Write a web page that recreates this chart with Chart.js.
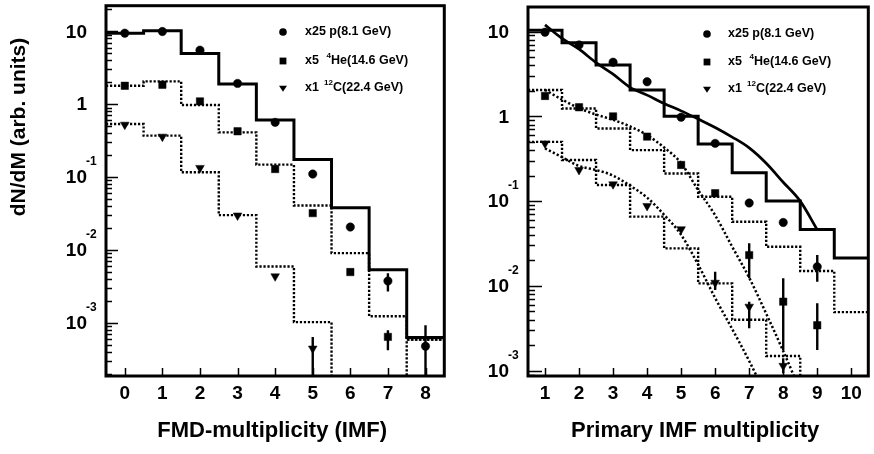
<!DOCTYPE html>
<html>
<head>
<meta charset="utf-8">
<script src="https://cdn.jsdelivr.net/npm/chart.js@4.4.1/dist/chart.umd.min.js"></script>
<style>
  html, body { margin: 0; padding: 0; background: #fff; }
  #wrap { position: relative; width: 874px; height: 454px; overflow: hidden; }
  canvas { position: absolute; top: 0; }
</style>
</head>
<body>
<div id="wrap">
  <canvas id="fmd" width="450" height="454" style="left:0"></canvas>
  <canvas id="primary" width="424" height="454" style="left:450px"></canvas>
</div>
<script>
// ---------- FMD-multiplicity panel ----------
const fmdCategories = [0, 1, 2, 3, 4, 5, 6, 7, 8];
// model histograms (one value per bin)
const fmdProtonHist = [9.44, 10.2, 4.97, 1.89, 0.607, 0.174, 0.0378, 0.00535, 6.27e-4];
const fmdHeliumHist = [1.79, 2.06, 0.975, 0.411, 0.148, 0.0407, 0.00905, 0.00123, 5.9e-4];
const fmdCarbonHist = [0.535, 0.37, 0.1164, 0.0300, 0.00591, 0.00102, 1e-6, 1e-6, 5.9e-4];
// measured points
const fmdProtonData = [9.44, 9.95, 5.52, 1.93, 0.563, 0.110, 0.0206, 0.00374, 4.77e-4];
const fmdHeliumData = [1.79, 1.85, 1.094, 0.425, 0.129, 0.032, 0.00497, 6.4e-4];
const fmdCarbonData = [0.524, 0.359, 0.1337, 0.0297, 0.00434, 4.43e-4];
// error bars: category -> [low, high]; low 0 runs down to the axis
const fmdProtonErr = { 7: [0.00269, 0.00479], 8: [0, 9.25e-4] };
const fmdHeliumErr = { 7: [4.2e-4, 7.9e-4] };
const fmdCarbonErr = { 5: [0, 6.4e-4] };

// ---------- Primary IMF multiplicity panel ----------
const primaryCategories = [1, 2, 3, 4, 5, 6, 7, 8, 9, 10];
const primaryProtonHist = [10.4, 7.4, 4.04, 2.05, 1.0, 0.471, 0.216, 0.1, 0.0462, 0.0214];
const primaryHeliumHist = [2.05, 1.24, 0.72, 0.40, 0.212, 0.1125, 0.057, 0.0289, 0.0150, 0.0049];
const primaryCarbonHist = [0.50, 0.306, 0.155, 0.0656, 0.0277, 0.0107, 0.00398, 0.00149, 1e-6, 1e-6];
const primaryProtonData = [9.82, 6.96, 4.35, 2.56, 0.977, 0.48, 0.095, 0.056, 0.0168];
const primaryHeliumData = [1.74, 1.28, 1.0, 0.577, 0.267, 0.124, 0.0231, 0.00651, 0.00343];
const primaryCarbonData = [0.48, 0.233, 0.158, 0.0877, 0.0466, 0.0109, 0.00569, 0.00114];
const primaryProtonErr = { 9: [0.0112, 0.0231] };
const primaryHeliumErr = { 7: [0.0123, 0.0318], 8: [0.00175, 0.0123], 9: [0.00175, 0.00624] };
const primaryCarbonErr = { 6: [0.00895, 0.0147], 7: [0.00316, 0.00651], 8: [0.00093, 0.0014] };
// smooth model curves
const fitX       = [1, 1.5, 2, 2.5, 3, 3.5, 4, 4.5, 5, 5.5, 6, 6.5, 7, 7.5, 8, 8.5, 9];
const protonFit  = [12.0, 8.3, 6.2, 4.3, 3.15, 2.2, 1.78, 1.42, 1.16, 0.93, 0.74, 0.57, 0.425, 0.28, 0.167, 0.1, 0.046];
const heliumFit  = [2.05, 1.58, 1.25, 1.05, 0.91, 0.76, 0.60, 0.43, 0.28, 0.135, 0.068, 0.029, 0.0125, 0.0047, 0.0017, 0.00058];
const carbonFit  = [0.42, 0.33, 0.26, 0.233, 0.20, 0.152, 0.11, 0.069, 0.040, 0.0178, 0.0072, 0.0031, 0.0013, 0.0005];

// ---------- axis text ----------
const yMajorTicks = [10, 1, 0.1, 0.01, 0.001];
const yTickBase   = ['10', '1', '10', '10', '10'];
const yTickExp    = ['', '', '-1', '-2', '-3'];
const fmdTitle = 'FMD-multiplicity (IMF)';
const primaryTitle = 'Primary IMF multiplicity';
const yTitle = 'dN/dM (arb. units)';
const legendScale = ['x25', 'x5', 'x1'];
const legendIsotope = ['', '4', '12'];
const legendBeam = ['p(8.1 GeV)', 'He(14.6 GeV)', 'C(22.4 GeV)'];
const legendStyles = ['circle', 'rect', 'triangle'];

const FONT = '"Liberation Sans", Arial, Helvetica, sans-serif';

function stepPoints(cats, vals) {
  const pts = cats.map((c, i) => ({ x: c - 0.5, y: vals[i] }));
  pts.push({ x: cats[cats.length - 1] + 0.5, y: vals[vals.length - 1] });
  return pts;
}
function pointData(cats, vals) {
  return vals.map((v, i) => ({ x: cats[i], y: v }));
}
function histSet(cats, vals, solid) {
  return {
    type: 'line', data: stepPoints(cats, vals), stepped: 'before',
    borderColor: '#000', borderWidth: solid ? 3 : 2.4,
    borderDash: solid ? [] : [2.2, 1.8], pointRadius: 0, fill: false, clip: 0
  };
}
function curveSet(xs, vals, solid) {
  return {
    type: 'line', data: vals.map((v, i) => ({ x: xs[i], y: v })),
    cubicInterpolationMode: 'monotone', borderColor: '#000',
    borderWidth: solid ? 2.7 : 2.5, borderDash: solid ? [] : [2.2, 2.2],
    pointRadius: 0, fill: false, clip: 0
  };
}
function markerSet(cats, vals, style) {
  return {
    type: 'line', data: pointData(cats, vals), showLine: false,
    pointStyle: style, rotation: style === 'triangle' ? 180 : 0,
    pointRadius: style === 'rect' ? 5.2 : (style === 'triangle' ? 5 : 4.2),
    pointBackgroundColor: '#000', pointBorderColor: '#000', pointBorderWidth: 0.5
  };
}

function drawMarker(ctx, style, x, y, r) {
  ctx.beginPath();
  if (style === 'circle') {
    ctx.arc(x, y, r, 0, Math.PI * 2);
  } else if (style === 'rect') {
    ctx.rect(x - r, y - r, 2 * r, 2 * r);
  } else {
    ctx.moveTo(x - r * 1.05, y - r * 0.6);
    ctx.lineTo(x + r * 1.05, y - r * 0.6);
    ctx.lineTo(x, y + r * 1.0);
    ctx.closePath();
  }
  ctx.fill();
}

// frame, ticks, tick labels, titles, legend and error bars
const panelAxes = {
  id: 'panelAxes',
  afterDatasetsDraw(chart, args, o) {
    const { ctx, chartArea: a, scales: { x, y } } = chart;
    ctx.save();
    ctx.beginPath();
    ctx.rect(a.left, a.top, a.width, a.height);
    ctx.clip();
    ctx.strokeStyle = '#000';
    ctx.lineWidth = 2.4;
    for (const err of o.errors) {
      for (const k of Object.keys(err)) {
        const px = x.getPixelForValue(Number(k));
        const lo = err[k][0] > 0 ? y.getPixelForValue(err[k][0]) : a.bottom;
        const hi = y.getPixelForValue(err[k][1]);
        ctx.beginPath();
        ctx.moveTo(px, lo);
        ctx.lineTo(px, hi);
        ctx.stroke();
      }
    }
    ctx.restore();
  },
  afterDraw(chart, args, o) {
    const { ctx, chartArea: a, scales: { x, y } } = chart;
    ctx.save();
    ctx.fillStyle = '#000';
    ctx.strokeStyle = '#000';

    // y ticks: majors and 2..9 minors, drawn inward
    ctx.lineWidth = 1.5;
    for (let e = -5; e <= 2; e++) {
      for (let m = 1; m <= 9; m++) {
        const v = m * Math.pow(10, e);
        if (v < y.min || v > y.max) continue;
        const py = Math.round(y.getPixelForValue(v)) + 0.5;
        const len = m === 1 ? o.majorLen : o.minorLen;
        ctx.beginPath();
        ctx.moveTo(a.left, py);
        ctx.lineTo(a.left + len, py);
        ctx.stroke();
      }
    }
    // x ticks at the categories
    for (const c of o.categories) {
      const px = Math.round(x.getPixelForValue(c)) + 0.5;
      ctx.beginPath();
      ctx.moveTo(px, a.bottom);
      ctx.lineTo(px, a.bottom - 8);
      ctx.stroke();
    }

    // frame
    ctx.lineWidth = 3;
    ctx.strokeRect(a.left, a.top, a.width, a.height);

    // y tick labels with superscript exponents
    yMajorTicks.forEach((v, i) => {
      const py = y.getPixelForValue(v);
      ctx.font = 'bold 19px ' + FONT;
      ctx.textAlign = 'right';
      ctx.textBaseline = 'middle';
      ctx.fillText(yTickBase[i], a.left - 19, py + 1);
      if (yTickExp[i]) {
        ctx.font = 'bold 12px ' + FONT;
        ctx.textAlign = 'left';
        ctx.fillText(yTickExp[i], a.left - 20, py - 15);
      }
    });
    // x tick labels
    ctx.font = 'bold 19px ' + FONT;
    ctx.textAlign = 'center';
    ctx.textBaseline = 'middle';
    for (const c of o.categories) {
      ctx.fillText(String(c), x.getPixelForValue(c), a.bottom + 18);
    }
    // x title
    ctx.font = 'bold 22px ' + FONT;
    ctx.fillText(o.title, (a.left + a.right) / 2 - 3, a.bottom + 55);
    // y title
    if (o.showYTitle) {
      ctx.save();
      ctx.translate(19, 127);
      ctx.rotate(-Math.PI / 2);
      ctx.font = 'bold 21px ' + FONT;
      ctx.fillText(yTitle, 0, 0);
      ctx.restore();
    }

    // legend
    legendScale.forEach((s, i) => {
      const ry = o.legendRows[i];
      const style = legendStyles[i];
      drawMarker(ctx, style, o.legendMarkerX, ry, style === 'circle' ? 3.8 : (style === 'rect' ? 3.4 : 3.8));
      ctx.font = 'bold 12.5px ' + FONT;
      ctx.textAlign = 'left';
      ctx.textBaseline = 'middle';
      const tx = o.legendTextX;
      ctx.fillText(s, tx, ry);
      if (legendIsotope[i]) {
        const bx = tx + (i === 1 ? 26 : 28);
        ctx.font = 'bold 8px ' + FONT;
        ctx.textAlign = 'right';
        ctx.fillText(legendIsotope[i], bx, ry - 5);
        ctx.font = 'bold 12.5px ' + FONT;
        ctx.textAlign = 'left';
        ctx.fillText(legendBeam[i], bx, ry);
      } else {
        const w = ctx.measureText(s + ' ').width;
        ctx.fillText(legendBeam[i], tx + w, ry);
      }
    });
    ctx.restore();
  }
};

function baseOptions(pad, xMin, xMax, yMin, yMax, plug) {
  return {
    responsive: false, animation: false, devicePixelRatio: 1, events: [],
    layout: { padding: pad },
    plugins: { legend: { display: false }, tooltip: { enabled: false }, panelAxes: plug },
    scales: {
      x: { type: 'linear', display: false, min: xMin, max: xMax },
      y: { type: 'logarithmic', display: false, min: yMin, max: yMax, bounds: 'data' }
    }
  };
}

new Chart(document.getElementById('fmd'), {
  type: 'line',
  data: {
    datasets: [
      histSet(fmdCategories, fmdProtonHist, true),
      histSet(fmdCategories, fmdHeliumHist, false),
      histSet(fmdCategories, fmdCarbonHist, false),
      markerSet(fmdCategories, fmdProtonData, 'circle'),
      markerSet(fmdCategories, fmdHeliumData, 'rect'),
      markerSet(fmdCategories, fmdCarbonData, 'triangle')
    ]
  },
  options: baseOptions({ left: 106, top: 5, right: 3, bottom: 78 }, -0.5, 8.5, 1.86e-4, 22.5, {
    categories: fmdCategories, title: fmdTitle, showYTitle: true,
    majorLen: 12, minorLen: 6,
    errors: [fmdProtonErr, fmdHeliumErr, fmdCarbonErr],
    legendMarkerX: 283, legendTextX: 305, legendRows: [32, 61, 88]
  }),
  plugins: [panelAxes]
});

new Chart(document.getElementById('primary'), {
  type: 'line',
  data: {
    datasets: [
      histSet(primaryCategories, primaryProtonHist, true),
      histSet(primaryCategories, primaryHeliumHist, false),
      histSet(primaryCategories, primaryCarbonHist, false),
      curveSet(fitX, protonFit, true),
      curveSet(fitX, heliumFit, false),
      curveSet(fitX, carbonFit, false),
      markerSet(primaryCategories, primaryProtonData, 'circle'),
      markerSet(primaryCategories, primaryHeliumData, 'rect'),
      markerSet(primaryCategories, primaryCarbonData, 'triangle')
    ]
  },
  options: baseOptions({ left: 78, top: 7, right: 5, bottom: 78 }, 0.5, 10.5, 8.65e-4, 19.5, {
    categories: primaryCategories, title: primaryTitle, showYTitle: false,
    majorLen: 14, minorLen: 7,
    errors: [primaryProtonErr, primaryHeliumErr, primaryCarbonErr],
    legendMarkerX: 257, legendTextX: 278, legendRows: [34, 62, 89]
  }),
  plugins: [panelAxes]
});
</script>
</body>
</html>
